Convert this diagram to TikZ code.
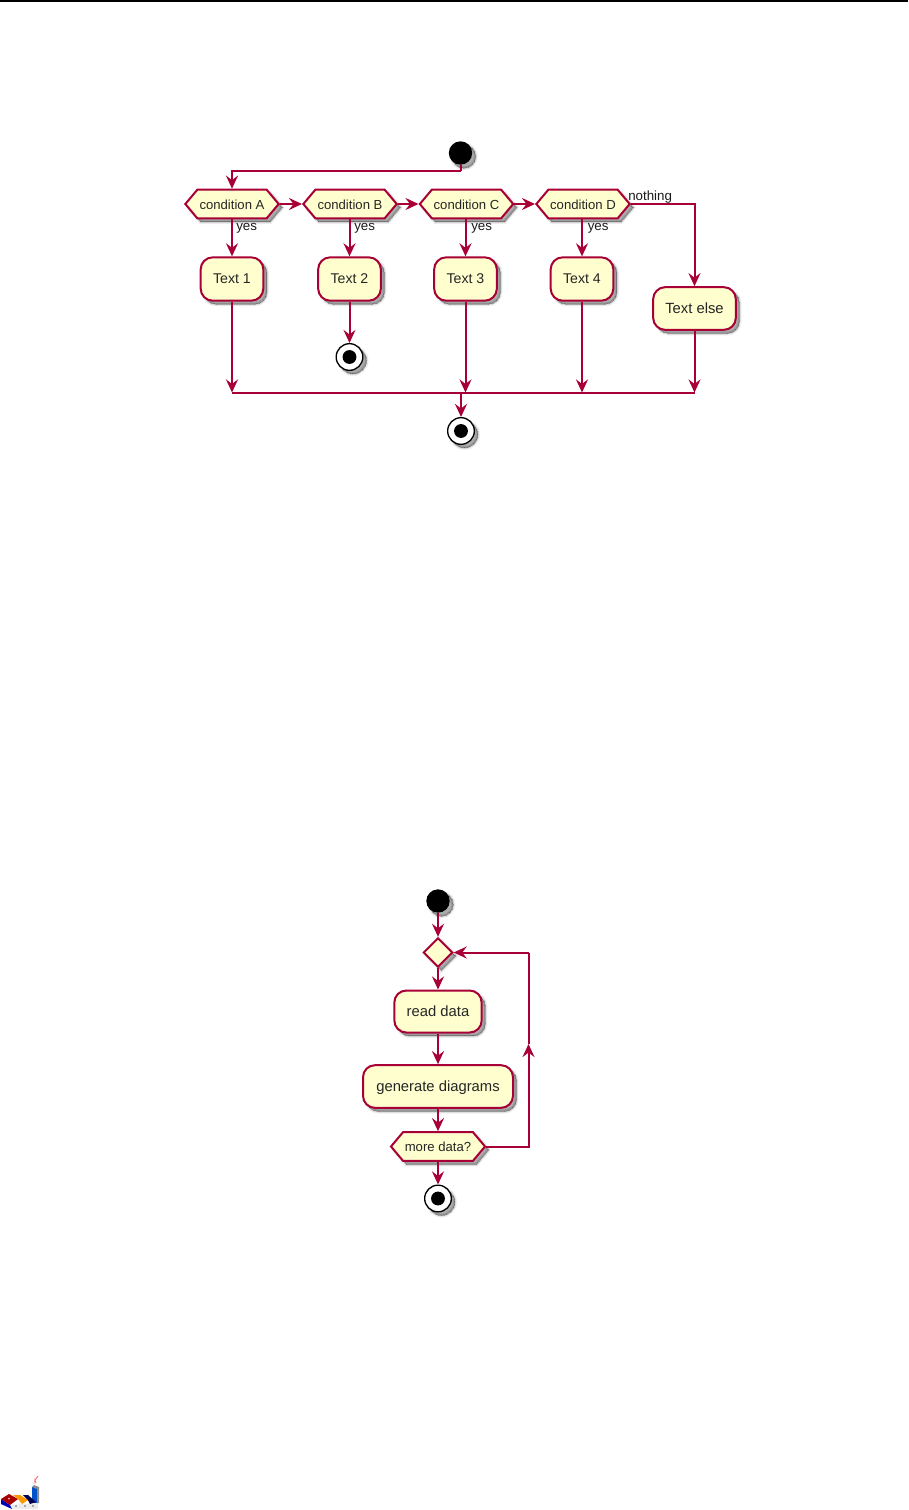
\documentclass[tikz,border=0pt]{standalone}
\usepackage{fontspec}
\setmainfont{Liberation Sans}
\usetikzlibrary{arrows.meta,shapes.geometric,shapes.symbols,shadows}
\definecolor{puml}{HTML}{A80036}
\definecolor{pfill}{HTML}{FEFECE}
\tikzset{
  softshadow/.style={
    general shadow={shadow xshift=2.6pt,shadow yshift=-2.6pt,fill=black,draw=black,line width=3.4pt,opacity=.05},
    general shadow={shadow xshift=2.6pt,shadow yshift=-2.6pt,fill=black,draw=black,line width=2.2pt,opacity=.07},
    general shadow={shadow xshift=2.6pt,shadow yshift=-2.6pt,fill=black,draw=black,line width=1.1pt,opacity=.1},
    general shadow={shadow xshift=2.6pt,shadow yshift=-2.6pt,fill=black,draw=black,line width=0pt,opacity=.14}},
  base/.style={draw=puml,fill=pfill,line width=1.5pt,inner sep=0pt,text=black!85,softshadow},
  action/.style={base,rectangle,rounded corners=9pt,text depth=0pt,align=center},
  smalltxt/.style={font=\fontsize{10.6}{12}\selectfont},
  bigtxt/.style={font=\fontsize{11.1}{13}\selectfont},
  cond/.style={base,signal,signal to=west and east,signal from=nowhere,signal pointer angle=100,text height=8.2pt,font=\fontsize{9.85}{11}\selectfont},
  merge/.style={base,diamond,aspect=1,minimum size=22pt},
  startdot/.style={circle,fill=black,draw=none,minimum size=17.5pt,inner sep=0pt,softshadow},
  stopdot/.style={circle,fill=white,draw=black,line width=1pt,minimum size=20pt,inner sep=0pt,softshadow,
     path picture={\fill[black] (path picture bounding box.center) circle (5.2pt);}},
  flow/.style={draw=puml,line width=1.5pt,-{Stealth[length=9.8pt,width=9pt,inset=3.4pt]}},
  plain/.style={draw=puml,line width=1.5pt},
  lab/.style={font=\fontsize{10}{11}\selectfont,text=black!90,inner sep=0pt,anchor=west},
  x=.75pt,y=-.75pt
}
\begin{document}
\begin{tikzpicture}
\useasboundingbox (0,0) rectangle (908,1510);
\draw[black,line width=1.2pt] (0,0.7) -- (908,0.7);

% --- first diagram
\node[startdot] (s1) at (460.5,153) {};
\node[cond,minimum width=70pt,minimum height=21.5pt] (cA) at (232,204) {condition A};
\node[cond,minimum width=70pt,minimum height=21.5pt] (cB) at (350,204) {condition B};
\node[cond,minimum width=70pt,minimum height=21.5pt] (cC) at (466.5,204) {condition C};
\node[cond,minimum width=70pt,minimum height=21.5pt] (cD) at (583,204) {condition D};
\node[action,smalltxt,minimum width=47pt,minimum height=32.5pt] (t1) at (232,279) {Text 1};
\node[action,smalltxt,minimum width=47pt,minimum height=32.5pt] (t2) at (349.5,279) {Text 2};
\node[action,smalltxt,minimum width=47pt,minimum height=32.5pt] (t3) at (465.5,279) {Text 3};
\node[action,smalltxt,minimum width=47pt,minimum height=32.5pt] (t4) at (582,279) {Text 4};
\node[action,bigtxt,minimum width=62pt,minimum height=32pt] (te) at (694.5,308.5) {Text else};
\node[stopdot] (e2) at (349.5,357) {};
\node[stopdot] (e1) at (461,431) {};

\coordinate (jn) at (461,392.5);
\coordinate (j1) at (232,392.5);
\coordinate (j3) at (465.5,392.5);
\coordinate (j4) at (582,392.5);
\coordinate (j5) at (694.5,392.5);
\coordinate (bend) at (460.5,171);

\draw[plain] (s1.south) -- (bend);
\draw[flow] (bend) -| (cA.north);
\draw[flow] (cA.east) -- (cB.west);
\draw[flow] (cB.east) -- (cC.west);
\draw[flow] (cC.east) -- (cD.west);
\draw[flow] (t1.north |- cA.south) -- (t1.north);
\draw[flow] (t2.north |- cB.south) -- (t2.north);
\draw[flow] (t3.north |- cC.south) -- (t3.north);
\draw[flow] (t4.north |- cD.south) -- (t4.north);
\draw[flow] (cD.east) -| (te.north);
\draw[flow] (t1.south) -- (j1);
\draw[flow] (t2.south) -- (e2.north);
\draw[flow] (t3.south) -- (j3);
\draw[flow] (t4.south) -- (j4);
\draw[flow] (te.south) -- (j5);
\draw[plain] (j1) -- (j5);
\draw[flow] (jn) -- (e1.north);

\node[lab] (y1) at (236,228.5) {yes};
\node[lab] (y2) at (354,228.5) {yes};
\node[lab] (y3) at (471,228.5) {yes};
\node[lab] (y4) at (587.5,228.5) {yes};
\node[lab] (no) at (628,197.5) {nothing};

% --- second diagram
\node[startdot] (s2) at (438,901) {};
\node[merge] (m) at (438,952.5) {};
\node[action,bigtxt,minimum width=65.5pt,minimum height=31.5pt] (rd) at (438,1011.5) {read data};
\node[action,bigtxt,minimum width=112.5pt,minimum height=32pt] (gd) at (438,1086.5) {generate diagrams};
\node[cond,minimum width=70.5pt,minimum height=21.5pt] (md) at (438,1146.5) {more data?};
\node[stopdot] (e3) at (438,1198.5) {};

\coordinate (lb) at (528.5,1146.5);
\coordinate (lm) at (528.5,1044);
\coordinate (lt) at (528.5,952.5);

\draw[flow] (s2.south) -- (m.north);
\draw[flow] (m.south) -- (rd.north);
\draw[flow] (rd.south) -- (gd.north);
\draw[flow] (gd.south) -- (md.north);
\draw[flow] (md.south) -- (e3.north);
\draw[flow] (md.east) -| (lm);
\draw[plain] (lm) -- (lt);
\draw[flow] (lt) -- (m.east);

% --- logo
\fill[black!8] (12,1509) -- (38,1509) -- (38,1502) -- (30,1504) -- (22,1504) -- (10,1505) -- cycle;
\fill[blue!75!black] (1,1499) -- (10,1505) -- (12,1509) -- (1,1504) -- cycle;
\fill[blue!60!cyan!80!black] (32,1487) -- (37,1487) -- (37,1503) -- (32,1503) -- cycle;
\fill[black!45] (32,1487) -- (34,1485) -- (39,1487) -- (39,1503) -- (37,1503) -- (37,1489) -- cycle;
\fill[red!65!black] (1,1499) -- (9,1494) -- (18,1499) -- (10,1505) -- cycle;
\fill[white!70!red] (9,1498.5) circle (1);
\fill[orange!80!yellow] (13,1495) -- (20,1495) -- (28,1500) -- (22,1504) -- (18,1499) -- cycle;
\fill[blue!30!black] (23,1495) -- (28,1495) -- (36,1502) -- (30,1504) -- (28,1500) -- cycle;
\foreach \dx in {16,25,33} \fill[black!60] (\dx,1506) circle (.9);
\draw[red!65,line width=.6pt] (36,1483) -- (35,1480) -- (38,1476);
\draw[red!35,line width=.6pt] (34,1484) -- (35,1478);
\end{tikzpicture}
\end{document}
